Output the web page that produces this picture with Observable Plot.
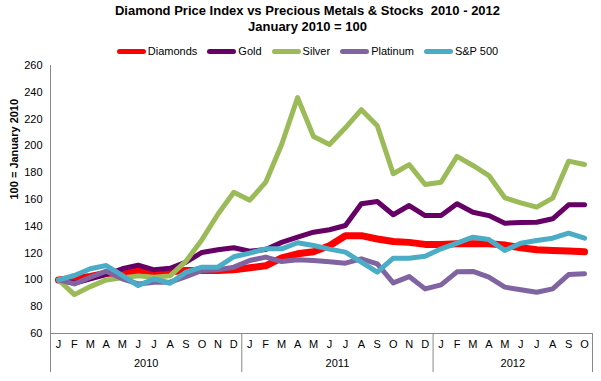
<!DOCTYPE html>
<html>
<head>
<meta charset="utf-8">
<script src="https://cdn.jsdelivr.net/npm/d3@7"></script>
<script src="https://cdn.jsdelivr.net/npm/@observablehq/plot@0.6"></script>
<style>
  html, body { margin: 0; padding: 0; background: #fff; }
  #wrap { position: relative; width: 601px; height: 381px; font-family: "Liberation Sans", Arial, sans-serif; }
  #title { position: absolute; left: 7px; top: 3px; width: 601px; text-align: center; font-weight: bold; font-size: 13px; line-height: 16px; color: #000; }
  #legend { position: absolute; left: 7px; top: 45px; width: 601px; display: flex; justify-content: center; font-size: 11px; color: #000; }
  .item { display: flex; align-items: center; margin: 0 5px; }
  .sw { display: inline-block; width: 29px; height: 5px; border-radius: 3px; margin-right: 2px; }
  svg { position: absolute; left: 0; top: 0; }
</style>
</head>
<body>
<div id="wrap">
  <div id="title">Diamond Price Index vs Precious Metals &amp; Stocks&nbsp; 2010 - 2012<br>January 2010 = 100</div>
  <div id="legend"></div>
</div>
<script>
const monthLabels = ["J","F","M","A","M","J","J","A","S","O","N","D",
                     "J","F","M","A","M","J","J","A","S","O","N","D",
                     "J","F","M","A","M","J","J","A","S","O"];
const years = ["2010", "2011", "2012"];
const yearMonths = [12, 12, 10];
const yTicks = [60, 80, 100, 120, 140, 160, 180, 200, 220, 240, 260];

const seriesNames = ["Diamonds", "Gold", "Silver", "Platinum", "S&P 500"];
const seriesColors = ["#FF0000", "#660066", "#9BBB59", "#8064A2", "#4BACC6"];

const diamonds = [100,101,102.5,105,105,107,106,106,107,107,107,107.5,
                  109,110.5,116.5,119.5,121,125.5,133,133,130.5,128.7,128,126.5,
                  126.5,127,127,127,126,124,122.5,122,121.5,121];
const gold = [100,97.5,100.8,104,108.3,111,107.5,108.7,113.2,120.5,122.5,124,
              121.4,122.7,128,132,135.6,137.4,140.6,156.8,158.5,148.6,155.5,148,
              148,156.8,150.5,148,142.3,142.8,143,145.6,156,156];
const silver = [100,89,95,100,101.5,103,102,103,114,130,149,165.4,
                159.5,172.9,201,236,207,201,213.5,227,215,179.2,186,171.2,
                172.9,192.2,185.4,177.9,161.3,157.5,154.3,161,188.6,186.1];
const platinum = [100,97,102,106.5,100.8,97,98.3,98.3,102.5,107,107.5,109.5,
                  114.5,117,113.7,115,114.5,113.5,112.5,115.7,112,97.8,102.5,93.3,
                  96.3,106,106.3,102,94.6,92.6,90.8,93.3,104,104.5];
const sp500 = [100,103.3,108.3,110.7,103.3,95.8,100.8,97.5,105.8,109.5,109.5,117.3,
               120,123.2,123.2,127.7,125.7,123,120.7,113.2,105.8,116.2,116.2,117.7,
               123.2,127.5,131.9,130.1,122,127.4,129.4,131.1,134.9,131.1];

const seriesValues = [diamonds, gold, silver, platinum, sp500];
const seriesWidths = [7, 5, 5, 5, 5];

// tidy table
const rows = [];
seriesNames.forEach((name, s) => {
  seriesValues[s].forEach((v, i) => rows.push({series: name, i, value: v}));
});
const months = monthLabels.map((m, i) => ({i, label: m}));

// year groupings
let start = 0;
const yearGroups = years.map((y, k) => {
  const g = {year: y, start: start - 0.5, end: start + yearMonths[k] - 0.5, mid: start + (yearMonths[k] - 1) / 2};
  start += yearMonths[k];
  return g;
});

const W = 601, H = 381, mT = 65, mB = 48, mL = 50, mR = 9;
const frameH = H - mT - mB;
const axisColor = "#888888";

const chart = Plot.plot({
  width: W, height: H,
  marginTop: mT, marginBottom: mB, marginLeft: mL, marginRight: mR,
  x: {type: "linear", domain: [-0.5, monthLabels.length - 0.5], axis: null},
  y: {domain: [60, 260], axis: null},
  style: {fontFamily: "'Liberation Sans', Arial, sans-serif", fontSize: "11px", color: "#000", background: "transparent"},
  marks: [
    Plot.axisY({ticks: yTicks, tickSize: 0, tickPadding: 8, label: null, fontSize: 11}),
    Plot.ruleX([-0.5], {stroke: axisColor, insetBottom: -39}),
    Plot.ruleY([60], {stroke: axisColor}),
    Plot.ruleX(yearGroups.slice(0), {x: "end", stroke: axisColor, insetTop: frameH, insetBottom: -39}),
    Plot.text(months, {x: "i", text: "label", frameAnchor: "bottom", dy: 14, fontSize: 11, fill: "#000"}),
    Plot.text(yearGroups, {x: "mid", text: "year", frameAnchor: "bottom", dy: 33, fontSize: 11, fill: "#000"}),
    Plot.text(["100 = January 2010"], {frameAnchor: "left", dx: -36, rotate: -90, fontWeight: "bold", fontSize: 11, fill: "#000"}),
    ...seriesNames.map((name, s) =>
      Plot.line(rows.filter(d => d.series === name), {
        x: "i", y: "value", stroke: seriesColors[s], strokeWidth: seriesWidths[s],
        strokeLinejoin: "round", strokeLinecap: "round"
      })
    )
  ]
});
document.getElementById("wrap").appendChild(chart);

const legend = document.getElementById("legend");
seriesNames.forEach((name, s) => {
  const it = document.createElement("div");
  it.className = "item";
  const sw = document.createElement("span");
  sw.className = "sw";
  sw.style.background = seriesColors[s];
  const t = document.createElement("span");
  t.textContent = name;
  it.appendChild(sw); it.appendChild(t);
  legend.appendChild(it);
});
</script>
</body>
</html>
